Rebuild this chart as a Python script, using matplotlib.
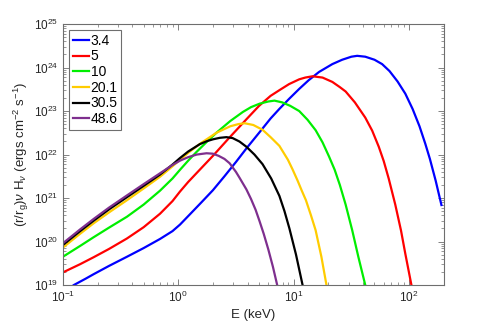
import matplotlib

matplotlib.use("Agg")
import matplotlib.pyplot as plt
import numpy as np
from matplotlib.ticker import LogLocator, NullFormatter

plt.rcParams["font.family"] = ["Liberation Sans", "DejaVu Sans"]
plt.rcParams["mathtext.fontset"] = "custom"
plt.rcParams["mathtext.rm"] = "Liberation Sans"
plt.rcParams["mathtext.it"] = "Liberation Sans:italic"

# Spectra, stored as log10 values
# (E in keV, flux in ergs cm^-2 s^-1)
labels = ["3.4", "5", "10", "20.1", "30.5", "48.6"]
colors = ["#0000ff", "#ff0000", "#00ee00", "#ffcc00", "#000000", "#7e2f8e"]

log_e_34 = [-0.905, -0.8, -0.733, -0.6, -0.445, -0.3, -0.158, -0.05, 0.015,
            0.095, 0.2, 0.3, 0.4, 0.5, 0.59, 0.7, 0.8, 0.876, 0.96, 1.048,
            1.13, 1.22, 1.335, 1.42, 1.5, 1.55, 1.62, 1.7, 1.766, 1.83, 1.9,
            1.967, 2.03, 2.09, 2.14, 2.18, 2.23, 2.28]
log_f_34 = [19.0, 19.15, 19.25, 19.44, 19.65, 19.85, 20.06, 20.24, 20.39,
            20.61, 20.9, 21.18, 21.5, 21.83, 22.14, 22.5, 22.83, 23.05, 23.28,
            23.51, 23.71, 23.9, 24.08, 24.18, 24.25, 24.27, 24.25, 24.18,
            24.08, 23.92, 23.68, 23.4, 23.05, 22.65, 22.25, 21.9, 21.4, 20.84]

log_e_5 = [-1.0, -0.85, -0.733, -0.6, -0.445, -0.3, -0.158, -0.05, 0.015,
           0.086, 0.2, 0.3, 0.45, 0.59, 0.7, 0.8, 0.876, 0.96, 1.048, 1.1,
           1.163, 1.25, 1.335, 1.4, 1.45, 1.53, 1.62, 1.68, 1.737, 1.78,
           1.823, 1.88, 1.93, 1.967, 2.02]
log_f_5 = [19.29, 19.48, 19.64, 19.83, 20.07, 20.33, 20.64, 20.93, 21.15,
           21.37, 21.69, 21.97, 22.41, 22.81, 23.12, 23.35, 23.48, 23.62,
           23.73, 23.77, 23.8, 23.77, 23.67, 23.55, 23.45, 23.2, 22.85, 22.55,
           22.18, 21.85, 21.45, 20.85, 20.25, 19.72, 19.0]

log_e_10 = [-1.0, -0.85, -0.733, -0.6, -0.445, -0.3, -0.158, -0.05, 0.015,
            0.086, 0.158, 0.25, 0.33, 0.45, 0.56, 0.63, 0.705, 0.78, 0.833,
            0.9, 0.97, 1.048, 1.12, 1.19, 1.25, 1.307, 1.355, 1.4, 1.45,
            1.507, 1.56, 1.62]
log_f_10 = [19.65, 19.9, 20.1, 20.32, 20.57, 20.85, 21.17, 21.45, 21.65,
            21.86, 22.06, 22.3, 22.5, 22.77, 22.98, 23.09, 23.17, 23.22, 23.24,
            23.2, 23.12, 23.0, 22.8, 22.56, 22.28, 21.95, 21.65, 21.3, 20.85,
            20.26, 19.65, 19.0]

log_e_201 = [-1.0, -0.85, -0.733, -0.6, -0.445, -0.3, -0.158, -0.05, 0.015,
             0.1, 0.2, 0.33, 0.45, 0.52, 0.575, 0.65, 0.73, 0.8, 0.876, 0.95,
             0.99, 1.034, 1.07, 1.106, 1.15, 1.19, 1.24, 1.284]
log_f_201 = [19.86, 20.18, 20.42, 20.67, 20.95, 21.22, 21.49, 21.73, 21.88,
             22.07, 22.27, 22.5, 22.65, 22.7, 22.72, 22.68, 22.57, 22.4, 22.2,
             21.88, 21.66, 21.4, 21.17, 20.95, 20.6, 20.26, 19.65, 19.0]

log_e_305 = [-1.0, -0.85, -0.733, -0.6, -0.445, -0.3, -0.158, -0.05, 0.015,
             0.086, 0.187, 0.25, 0.3, 0.36, 0.417, 0.47, 0.53, 0.59, 0.66,
             0.73, 0.805, 0.876, 0.92, 0.963, 1.02, 1.077]
log_f_305 = [19.92, 20.24, 20.48, 20.74, 21.02, 21.28, 21.54, 21.77, 21.92,
             22.07, 22.24, 22.31, 22.35, 22.385, 22.4, 22.38, 22.3, 22.18,
             22.0, 21.78, 21.45, 21.05, 20.7, 20.3, 19.7, 19.0]

log_e_486 = [-1.0, -0.85, -0.733, -0.6, -0.445, -0.3, -0.158, -0.05, 0.015,
             0.086, 0.16, 0.245, 0.3, 0.35, 0.4, 0.445, 0.5, 0.53, 0.59, 0.63,
             0.67, 0.704, 0.74, 0.78, 0.82, 0.857]
log_f_486 = [19.96, 20.28, 20.52, 20.78, 21.06, 21.32, 21.57, 21.76, 21.86,
             21.94, 22.0, 22.03, 22.02, 21.97, 21.9, 21.8, 21.6, 21.47, 21.2,
             20.98, 20.73, 20.47, 20.18, 19.82, 19.42, 19.0]

log_energies = [log_e_34, log_e_5, log_e_10, log_e_201, log_e_305, log_e_486]
log_fluxes = [log_f_34, log_f_5, log_f_10, log_f_201, log_f_305, log_f_486]


def main() -> None:
    fig = plt.figure(figsize=(4.91, 3.21), dpi=100)
    ax = fig.add_axes([0.128, 0.112, 0.776, 0.813])

    for le, lf, lab, col in zip(log_energies, log_fluxes, labels, colors):
        ax.plot(np.power(10.0, le), np.power(10.0, lf), color=col, lw=1.6,
                label=lab, solid_joinstyle="round")

    ax.set_xscale("log")
    ax.set_yscale("log")
    ax.set_xlim(0.1, 200)
    ax.set_ylim(1e19, 1e25)

    frame = "#6e6e6e"
    for sp in ax.spines.values():
        sp.set_color(frame)
        sp.set_linewidth(0.8)

    ax.yaxis.set_major_locator(LogLocator(base=10, numticks=10))
    ax.yaxis.set_minor_locator(LogLocator(base=10, subs=range(2, 10), numticks=20))
    ax.yaxis.set_minor_formatter(NullFormatter())
    ax.xaxis.set_minor_locator(LogLocator(base=10, subs=range(2, 10), numticks=20))
    ax.xaxis.set_minor_formatter(NullFormatter())

    ax.tick_params(which="both", direction="in", top=True, right=True,
                   color=frame, labelcolor="#262626", labelsize=8.5)
    ax.tick_params(which="major", length=4, width=0.6)
    ax.tick_params(which="minor", length=2, width=0.5)

    ax.set_xlabel("E (keV)", fontsize=9.5, color="#262626", labelpad=3)
    ax.set_ylabel(r"(r/r$_{\rm g}$)$\nu$ H$_\nu$ (ergs cm$^{-2}$ s$^{-1}$)",
                  fontsize=9.5, color="#262626", labelpad=2)

    leg = ax.legend(loc="upper left", fontsize=10, handlelength=1.15,
                    handletextpad=0.15, labelspacing=0.12, borderpad=0.25,
                    borderaxespad=0.45, fancybox=False, framealpha=1)
    leg.get_frame().set_edgecolor(frame)
    leg.get_frame().set_linewidth(0.8)

    fig.savefig("out.png", dpi=100)


if __name__ == "__main__":
    main()
